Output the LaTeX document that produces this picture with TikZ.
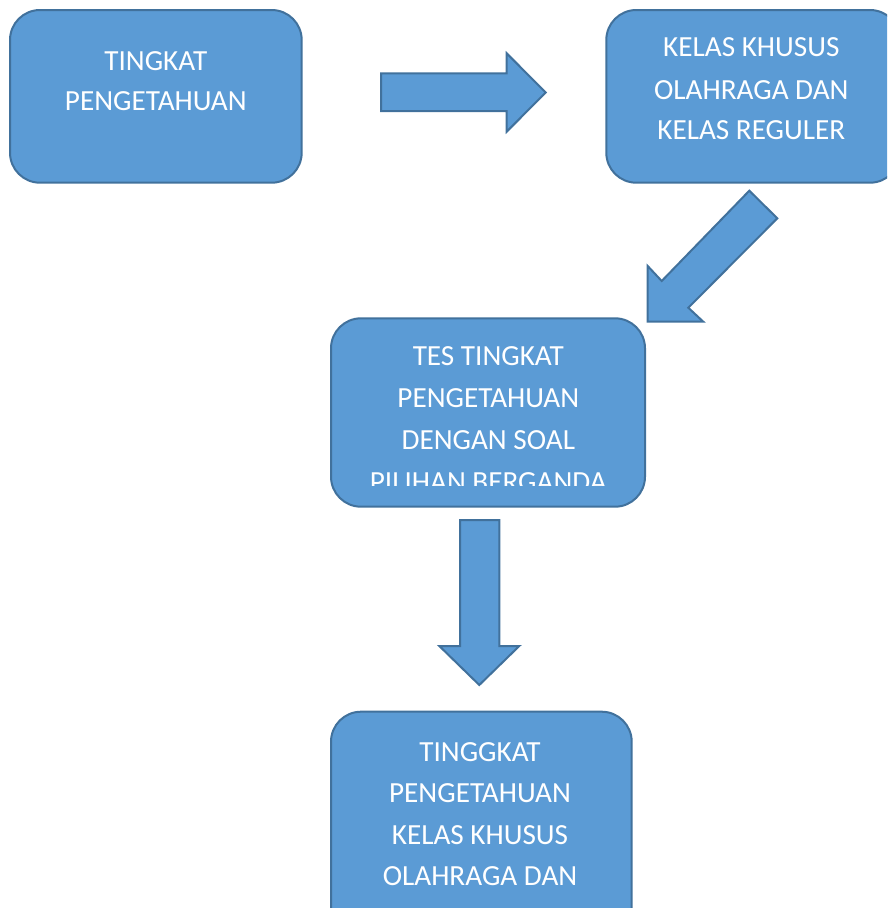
\documentclass[tikz,border=0pt]{standalone}
\usepackage{fontspec}
\setmainfont{Carlito}
\definecolor{boxfill}{HTML}{5B9BD5}
\definecolor{boxline}{HTML}{41719C}
\begin{document}
\begin{tikzpicture}[x=1pt,y=-1pt,
  flowbox/.style={draw=boxline,fill=boxfill,line width=2pt,rounded corners=30pt,rectangle,inner sep=0pt,outer sep=0pt},
  boxtext/.style={text=white,font=\fontsize{29.2}{35}\selectfont,anchor=base,inner sep=0pt},
  blockarrow/.style={draw=boxline,fill=boxfill,line width=2pt,line join=miter}]
\useasboundingbox (0,0) rectangle (887,908);
\clip (0,0) rectangle (887,908);
% boxes
\node[flowbox,minimum width=291.7pt,minimum height=172.7pt] (b1) at (155.85,96.35) {};
\node[flowbox,minimum width=293.7pt,minimum height=172.7pt] (b2) at (753.15,96.35) {};
\node[flowbox,minimum width=314pt,minimum height=188.4pt] (b3) at (488,412.5) {};
\node[flowbox,minimum width=300.7pt,minimum height=230pt] (b4) at (481.35,826.7) {};
% texts
\node[boxtext] (t11) at (155.8,70) {TINGKAT};
\node[boxtext] (t12) at (155.8,110) {PENGETAHUAN};
\node[boxtext] (t21) at (751.3,56.7) {KELAS KHUSUS};
\node[boxtext] (t22) at (751.3,99) {OLAHRAGA DAN};
\node[boxtext] (t23) at (751.3,139.3) {KELAS REGULER};
\node[boxtext] (t31) at (488.3,365.7) {TES TINGKAT};
\node[boxtext] (t32) at (488.3,407.7) {PENGETAHUAN};
\node[boxtext] (t33) at (488.3,449.3) {DENGAN SOAL};
\begin{scope}
\clip (331,300) rectangle (645,485);
\node[boxtext] (t34) at (488.3,491) {PILIHAN BERGANDA};
\end{scope}
\node[boxtext] (t41) at (480,761.7) {TINGGKAT};
\node[boxtext] (t42) at (480,802.7) {PENGETAHUAN};
\node[boxtext] (t43) at (480,844) {KELAS KHUSUS};
\node[boxtext] (t44) at (480,885) {OLAHRAGA DAN};
% block arrows
\draw[blockarrow] (381,73.3) -- (506.7,73.3) -- (506.7,53.3) -- (545.7,92.5) -- (506.7,131.7) -- (506.7,111) -- (381,111) -- cycle;
\draw[blockarrow] (749.3,190.7) -- (777.3,218.3) -- (688.3,307.7) -- (703.3,321.7) -- (647.7,321.7) -- (647.7,266) -- (661.7,281) -- cycle;
\draw[blockarrow] (460,520) -- (499.3,520) -- (499.3,646) -- (519.3,646) -- (479.3,685) -- (439.3,646) -- (460,646) -- cycle;
\end{tikzpicture}
\end{document}
